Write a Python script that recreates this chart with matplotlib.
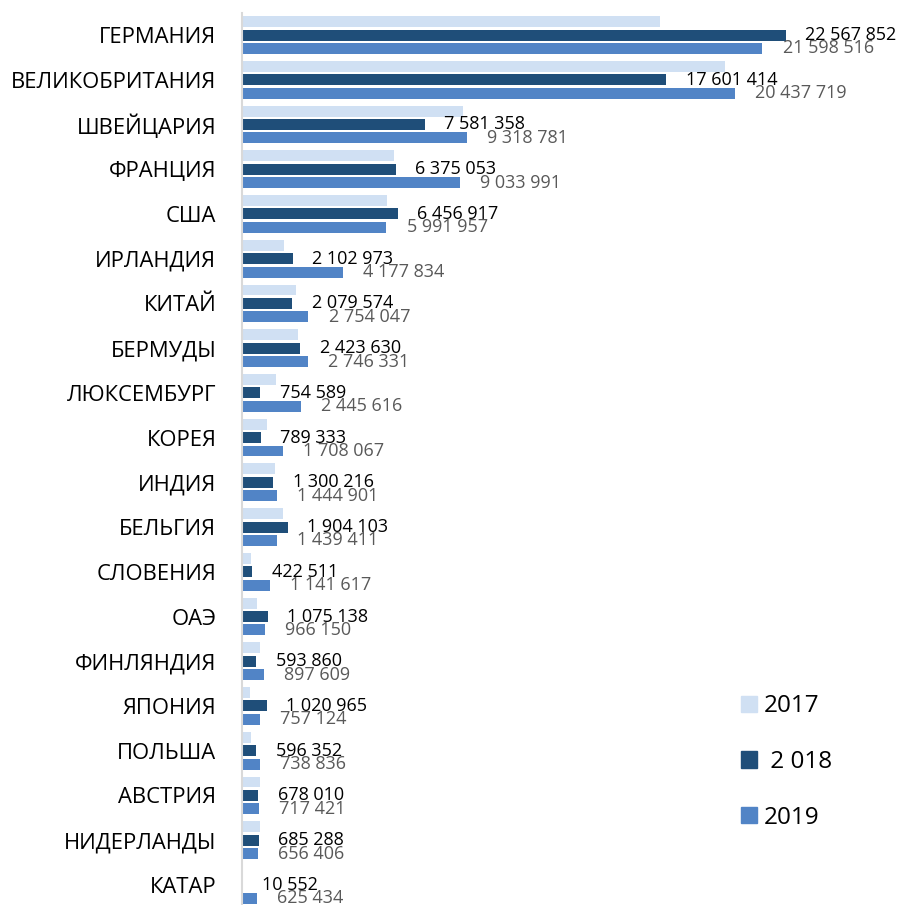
import matplotlib
matplotlib.use("Agg")
import matplotlib.pyplot as plt
import numpy as np
from matplotlib.patches import Patch

# страны сверху вниз
strany = ["ГЕРМАНИЯ", "ВЕЛИКОБРИТАНИЯ", "ШВЕЙЦАРИЯ", "ФРАНЦИЯ", "США",
          "ИРЛАНДИЯ", "КИТАЙ", "БЕРМУДЫ", "ЛЮКСЕМБУРГ", "КОРЕЯ",
          "ИНДИЯ", "БЕЛЬГИЯ", "СЛОВЕНИЯ", "ОАЭ", "ФИНЛЯНДИЯ",
          "ЯПОНИЯ", "ПОЛЬША", "АВСТРИЯ", "НИДЕРЛАНДЫ", "КАТАР"]

# 2017 - без подписей, оценка по длине столбцов
v2017 = [17330000, 20060000, 9170000, 6310000, 6000000,
         1730000, 2240000, 2340000, 1400000, 1020000,
         1370000, 1720000, 380000, 640000, 740000,
         350000, 380000, 760000, 740000, 0]

v2018 = [22567852, 17601414, 7581358, 6375053, 6456917,
         2102973, 2079574, 2423630, 754589, 789333,
         1300216, 1904103, 422511, 1075138, 593860,
         1020965, 596352, 678010, 685288, 10552]

v2019 = [21598516, 20437719, 9318781, 9033991, 5991957,
         4177834, 2754047, 2746331, 2445616, 1708067,
         1444901, 1439411, 1141617, 966150, 897609,
         757124, 738836, 717421, 656406, 625434]

anos = ["2017", " 2 018", "2019"]
cores = ["#D0E0F3", "#1F4E79", "#5184C6"]

def fmt(v):
    return f"{v:,}".replace(",", " ")

plt.rcParams['font.family'] = ['Open Sans', 'DejaVu Sans']

fig = plt.figure(figsize=(9.03, 9.05), dpi=100)
ax = fig.add_axes([242/903, -0.0025, 1 - 242/903, 0.9885])

y = np.arange(len(strany))
h = 0.245
d = 0.30

ax.barh(y - d, v2017, height=h, color=cores[0])
ax.barh(y, v2018, height=h, color=cores[1])
ax.barh(y + d, v2019, height=h, color=cores[2])

for i in range(len(strany)):
    ax.annotate(fmt(v2018[i]), (v2018[i], y[i]), xytext=(14, 0),
                textcoords='offset points', va='center', ha='left',
                fontsize=13, color='black')
    ax.annotate(fmt(v2019[i]), (v2019[i], y[i] + d), xytext=(14.5, 0),
                textcoords='offset points', va='center', ha='left',
                fontsize=13, color='#595959')

ax.set_xlim(0, 27.43e6)
ax.set_ylim(len(strany) - 0.5, -0.5)
ax.set_yticks(y)
ax.set_yticklabels(strany, fontsize=15.8)
ax.tick_params(axis='y', length=0, pad=18.5)
ax.set_xticks([])
for s in ['top', 'right', 'bottom']:
    ax.spines[s].set_visible(False)
ax.spines['left'].set_color('#D9D9D9')
ax.spines['left'].set_linewidth(1.5)

handles = [Patch(color=c) for c in cores]
fig.legend(handles, anos, loc='center left', bbox_to_anchor=(741/903, 1 - 762/905),
           frameon=False, fontsize=17.5, handlelength=0.65, handleheight=0.65,
           handletextpad=0.3, labelspacing=1.3, borderpad=0, borderaxespad=0)

fig.savefig("out.png", dpi=100)
